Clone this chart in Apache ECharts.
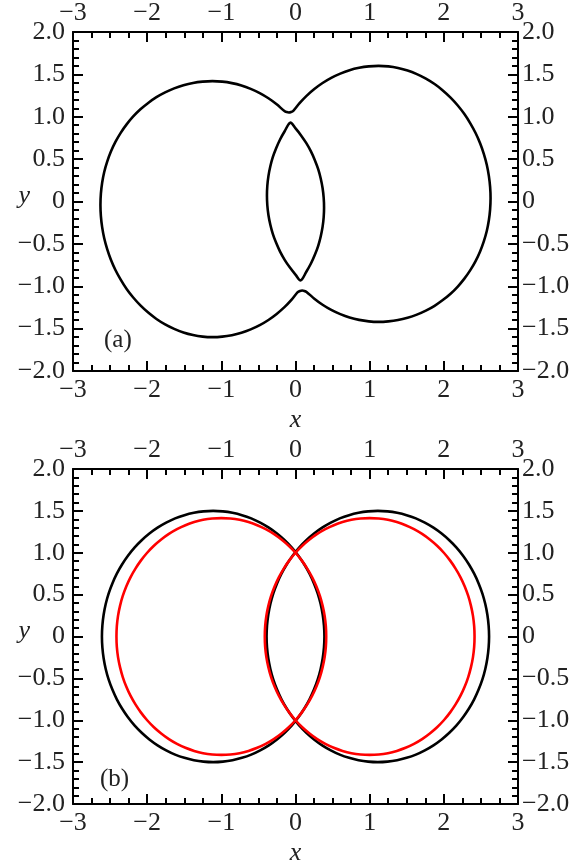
<!DOCTYPE html>
<html>
<head>
<meta charset="utf-8">
<script src="https://cdn.jsdelivr.net/npm/echarts@6/dist/echarts.min.js"></script>
<style>
  html, body { margin: 0; padding: 0; background: #fff; }
  #chart { width: 586px; height: 867px; }
</style>
</head>
<body>
<div id="chart"></div>
<script>
// tick values of both panels
const xTicks = [-3, -2, -1, 0, 1, 2, 3];
const yTicks = [-2, -1.5, -1, -0.5, 0, 0.5, 1, 1.5, 2];

// panel (a): outer peanut-shaped orbit (clockwise from the left edge)
const aOuter = [
  [-2.63, -0.04], [-2.624, 0.092], [-2.607, 0.221], [-2.579, 0.348], [-2.539, 0.470],
  [-2.489, 0.589], [-2.428, 0.703], [-2.357, 0.810], [-2.277, 0.910], [-2.188, 1.003],
  [-2.091, 1.088], [-1.986, 1.163], [-1.875, 1.231], [-1.758, 1.288], [-1.636, 1.335],
  [-1.511, 1.372], [-1.382, 1.399], [-1.252, 1.414], [-1.12, 1.42], [-0.988, 1.414],
  [-0.858, 1.397], [-0.729, 1.369], [-0.604, 1.329], [-0.482, 1.279], [-0.365, 1.218],
  [-0.254, 1.147], [-0.149, 1.067],
  [-0.12, 1.055], [-0.09, 1.05], [-0.06, 1.055], [-0.03, 1.07],
  [0.052, 1.158], [0.149, 1.247], [0.254, 1.327], [0.365, 1.398], [0.482, 1.459],
  [0.604, 1.509], [0.729, 1.549], [0.858, 1.577], [0.988, 1.594], [1.12, 1.60],
  [1.252, 1.594], [1.382, 1.576], [1.511, 1.546], [1.636, 1.503], [1.758, 1.450],
  [1.875, 1.386], [1.986, 1.311], [2.091, 1.226], [2.188, 1.133], [2.277, 1.032],
  [2.357, 0.922], [2.428, 0.808], [2.489, 0.687], [2.539, 0.562], [2.579, 0.434],
  [2.607, 0.303], [2.624, 0.172], [2.63, 0.04], [2.624, -0.092], [2.607, -0.221],
  [2.579, -0.348], [2.539, -0.470], [2.489, -0.589], [2.428, -0.703], [2.357, -0.810],
  [2.277, -0.910], [2.188, -1.003], [2.091, -1.088], [1.986, -1.163], [1.875, -1.231],
  [1.758, -1.288], [1.636, -1.335], [1.511, -1.372], [1.382, -1.399], [1.252, -1.414],
  [1.12, -1.42], [0.988, -1.414], [0.858, -1.397], [0.729, -1.369], [0.604, -1.329],
  [0.482, -1.279], [0.365, -1.218], [0.254, -1.147], [0.149, -1.067],
  [0.12, -1.055], [0.09, -1.05], [0.06, -1.055], [0.03, -1.07],
  [-0.052, -1.158], [-0.149, -1.247], [-0.254, -1.327], [-0.365, -1.398], [-0.482, -1.459],
  [-0.604, -1.509], [-0.729, -1.549], [-0.858, -1.577], [-0.988, -1.594], [-1.12, -1.60],
  [-1.252, -1.594], [-1.382, -1.576], [-1.511, -1.546], [-1.636, -1.503], [-1.758, -1.450],
  [-1.875, -1.386], [-1.986, -1.311], [-2.091, -1.226], [-2.188, -1.133], [-2.277, -1.032],
  [-2.357, -0.922], [-2.428, -0.808], [-2.489, -0.687], [-2.539, -0.562], [-2.579, -0.434],
  [-2.607, -0.303], [-2.624, -0.172]
];

// panel (a): inner lens
const aLens = [
  [-0.07, 0.93], [-0.002, 0.865], [0.075, 0.780], [0.146, 0.688], [0.208, 0.591],
  [0.261, 0.488], [0.306, 0.382], [0.340, 0.272], [0.365, 0.159], [0.380, 0.044],
  [0.385, -0.071], [0.380, -0.186], [0.365, -0.300], [0.340, -0.413], [0.306, -0.523],
  [0.261, -0.629], [0.208, -0.732], [0.146, -0.829],
  [0.07, -0.93], [0.002, -0.865], [-0.075, -0.780], [-0.146, -0.688], [-0.208, -0.591],
  [-0.261, -0.488], [-0.306, -0.382], [-0.340, -0.272], [-0.365, -0.159], [-0.380, -0.044],
  [-0.385, 0.071], [-0.380, 0.186], [-0.365, 0.300], [-0.340, 0.413], [-0.306, 0.523],
  [-0.261, 0.629], [-0.208, 0.732], [-0.146, 0.829]
];

// panel (b): black orbits
const bBlackLeft = [
  [0.39, 0], [0.384, 0.131], [0.367, 0.26], [0.339, 0.388], [0.30, 0.513],
  [0.249, 0.634], [0.189, 0.75], [0.119, 0.86], [0.039, 0.964], [-0.049, 1.061],
  [-0.146, 1.149], [-0.25, 1.229], [-0.36, 1.299], [-0.476, 1.359], [-0.597, 1.41],
  [-0.722, 1.449], [-0.85, 1.477], [-0.979, 1.494], [-1.11, 1.5], [-1.241, 1.494],
  [-1.37, 1.477], [-1.498, 1.449], [-1.623, 1.41], [-1.744, 1.359], [-1.86, 1.299],
  [-1.97, 1.229], [-2.074, 1.149], [-2.171, 1.061], [-2.259, 0.964], [-2.339, 0.86],
  [-2.409, 0.75], [-2.469, 0.634], [-2.52, 0.513], [-2.559, 0.388], [-2.587, 0.26],
  [-2.604, 0.131], [-2.61, 0], [-2.604, -0.131], [-2.587, -0.26], [-2.559, -0.388],
  [-2.52, -0.513], [-2.469, -0.634], [-2.409, -0.75], [-2.339, -0.86], [-2.259, -0.964],
  [-2.171, -1.061], [-2.074, -1.149], [-1.97, -1.229], [-1.86, -1.299], [-1.744, -1.359],
  [-1.623, -1.41], [-1.498, -1.449], [-1.37, -1.477], [-1.241, -1.494], [-1.11, -1.5],
  [-0.979, -1.494], [-0.85, -1.477], [-0.722, -1.449], [-0.597, -1.41], [-0.476, -1.359],
  [-0.36, -1.299], [-0.25, -1.229], [-0.146, -1.149], [-0.049, -1.061], [0.039, -0.964],
  [0.119, -0.86], [0.189, -0.75], [0.249, -0.634], [0.30, -0.513], [0.339, -0.388],
  [0.367, -0.26], [0.384, -0.131]
];
const bBlackRight = [
  [-0.39, 0], [-0.384, 0.131], [-0.367, 0.26], [-0.339, 0.388], [-0.30, 0.513],
  [-0.249, 0.634], [-0.189, 0.75], [-0.119, 0.86], [-0.039, 0.964], [0.049, 1.061],
  [0.146, 1.149], [0.25, 1.229], [0.36, 1.299], [0.476, 1.359], [0.597, 1.41],
  [0.722, 1.449], [0.85, 1.477], [0.979, 1.494], [1.11, 1.5], [1.241, 1.494],
  [1.37, 1.477], [1.498, 1.449], [1.623, 1.41], [1.744, 1.359], [1.86, 1.299],
  [1.97, 1.229], [2.074, 1.149], [2.171, 1.061], [2.259, 0.964], [2.339, 0.86],
  [2.409, 0.75], [2.469, 0.634], [2.52, 0.513], [2.559, 0.388], [2.587, 0.26],
  [2.604, 0.131], [2.61, 0], [2.604, -0.131], [2.587, -0.26], [2.559, -0.388],
  [2.52, -0.513], [2.469, -0.634], [2.409, -0.75], [2.339, -0.86], [2.259, -0.964],
  [2.171, -1.061], [2.074, -1.149], [1.97, -1.229], [1.86, -1.299], [1.744, -1.359],
  [1.623, -1.41], [1.498, -1.449], [1.37, -1.477], [1.241, -1.494], [1.11, -1.5],
  [0.979, -1.494], [0.85, -1.477], [0.722, -1.449], [0.597, -1.41], [0.476, -1.359],
  [0.36, -1.299], [0.25, -1.229], [0.146, -1.149], [0.049, -1.061], [-0.039, -0.964],
  [-0.119, -0.86], [-0.189, -0.75], [-0.249, -0.634], [-0.30, -0.513], [-0.339, -0.388],
  [-0.367, -0.26], [-0.384, -0.131]
];

// panel (b): red orbits
const bRedRight = [
  [2.414, 0], [2.409, 0.123], [2.393, 0.246], [2.366, 0.366], [2.329, 0.484],
  [2.282, 0.598], [2.225, 0.707], [2.158, 0.811], [2.083, 0.909], [2.0, 1.0],
  [1.909, 1.083], [1.811, 1.158], [1.707, 1.225], [1.598, 1.282], [1.484, 1.329],
  [1.366, 1.366], [1.246, 1.393], [1.123, 1.409], [1.0, 1.414], [0.877, 1.409],
  [0.754, 1.393], [0.634, 1.366], [0.516, 1.329], [0.402, 1.282], [0.293, 1.225],
  [0.189, 1.158], [0.091, 1.083], [0.0, 1.0], [-0.083, 0.909], [-0.158, 0.811],
  [-0.225, 0.707], [-0.282, 0.598], [-0.329, 0.484], [-0.366, 0.366], [-0.393, 0.246],
  [-0.409, 0.123], [-0.414, 0], [-0.409, -0.123], [-0.393, -0.246], [-0.366, -0.366],
  [-0.329, -0.484], [-0.282, -0.598], [-0.225, -0.707], [-0.158, -0.811], [-0.083, -0.909],
  [0.0, -1.0], [0.091, -1.083], [0.189, -1.158], [0.293, -1.225], [0.402, -1.282],
  [0.516, -1.329], [0.634, -1.366], [0.754, -1.393], [0.877, -1.409], [1.0, -1.414],
  [1.123, -1.409], [1.246, -1.393], [1.366, -1.366], [1.484, -1.329], [1.598, -1.282],
  [1.707, -1.225], [1.811, -1.158], [1.909, -1.083], [2.0, -1.0], [2.083, -0.909],
  [2.158, -0.811], [2.225, -0.707], [2.282, -0.598], [2.329, -0.484], [2.366, -0.366],
  [2.393, -0.246], [2.409, -0.123]
];
const bRedLeft = [
  [-2.414, 0], [-2.409, 0.123], [-2.393, 0.246], [-2.366, 0.366], [-2.329, 0.484],
  [-2.282, 0.598], [-2.225, 0.707], [-2.158, 0.811], [-2.083, 0.909], [-2.0, 1.0],
  [-1.909, 1.083], [-1.811, 1.158], [-1.707, 1.225], [-1.598, 1.282], [-1.484, 1.329],
  [-1.366, 1.366], [-1.246, 1.393], [-1.123, 1.409], [-1.0, 1.414], [-0.877, 1.409],
  [-0.754, 1.393], [-0.634, 1.366], [-0.516, 1.329], [-0.402, 1.282], [-0.293, 1.225],
  [-0.189, 1.158], [-0.091, 1.083], [0.0, 1.0], [0.083, 0.909], [0.158, 0.811],
  [0.225, 0.707], [0.282, 0.598], [0.329, 0.484], [0.366, 0.366], [0.393, 0.246],
  [0.409, 0.123], [0.414, 0], [0.409, -0.123], [0.393, -0.246], [0.366, -0.366],
  [0.329, -0.484], [0.282, -0.598], [0.225, -0.707], [0.158, -0.811], [0.083, -0.909],
  [0.0, -1.0], [-0.091, -1.083], [-0.189, -1.158], [-0.293, -1.225], [-0.402, -1.282],
  [-0.516, -1.329], [-0.634, -1.366], [-0.754, -1.393], [-0.877, -1.409], [-1.0, -1.414],
  [-1.123, -1.409], [-1.246, -1.393], [-1.366, -1.366], [-1.484, -1.329], [-1.598, -1.282],
  [-1.707, -1.225], [-1.811, -1.158], [-1.909, -1.083], [-2.0, -1.0], [-2.083, -0.909],
  [-2.158, -0.811], [-2.225, -0.707], [-2.282, -0.598], [-2.329, -0.484], [-2.366, -0.366],
  [-2.393, -0.246], [-2.409, -0.123]
];

const FONT = 'Liberation Serif';
const fmtX = v => String(v).replace('-', '\u2212');
const fmtY = v => (v === 0 ? '0' : v.toFixed(1)).replace('-', '\u2212');

function xAxis(gridIndex, position, withName) {
  return {
    type: 'value', gridIndex, position,
    min: xTicks[0], max: xTicks[xTicks.length - 1], interval: 1,
    name: withName ? 'x' : '', nameLocation: 'middle', nameGap: 36,
    nameMoveOverlap: false,
    nameTextStyle: { fontFamily: FONT, fontStyle: 'italic', fontSize: 26, color: '#222' },
    axisLine: { show: true, onZero: false, lineStyle: { color: '#000', width: 2 } },
    axisTick: { show: true, inside: true, length: 10, lineStyle: { color: '#000', width: 2 } },
    minorTick: { show: true, splitNumber: 4, length: 6, lineStyle: { color: '#000', width: 2 } },
    axisLabel: { fontFamily: FONT, fontSize: 26, color: '#222', margin: 6, formatter: fmtX },
    splitLine: { show: false }
  };
}

function yAxis(gridIndex, position, withName) {
  return {
    type: 'value', gridIndex, position,
    min: yTicks[0], max: yTicks[yTicks.length - 1], interval: 0.5,
    name: withName ? 'y' : '', nameLocation: 'middle', nameGap: 43, nameRotate: 0,
    nameMoveOverlap: false,
    nameTextStyle: {
      fontFamily: FONT, fontStyle: 'italic', fontSize: 26, color: '#222',
      verticalAlign: 'bottom', lineHeight: 10
    },
    axisLine: { show: true, onZero: false, lineStyle: { color: '#000', width: 2 } },
    axisTick: { show: true, inside: true, length: 10, lineStyle: { color: '#000', width: 2 } },
    minorTick: { show: true, splitNumber: 5, length: 6, lineStyle: { color: '#000', width: 2 } },
    axisLabel: {
      fontFamily: FONT, fontSize: 26, color: '#222',
      margin: position === 'left' ? 8 : 4, formatter: fmtY
    },
    splitLine: { show: false }
  };
}

// closed orbit: the whole point list is mapped through the axes and drawn as one loop
function orbit(points, color, xi, yi) {
  return {
    type: 'custom', coordinateSystem: 'cartesian2d',
    xAxisIndex: xi, yAxisIndex: yi,
    data: [points[0]], silent: true, clip: true,
    renderItem: (params, api) => ({
      type: 'polygon',
      shape: { points: points.map(p => api.coord(p)), smooth: 0.33 },
      style: { fill: 'none', stroke: color, lineWidth: 2.6, lineJoin: 'round' }
    })
  };
}

const chart = echarts.init(document.getElementById('chart'));
chart.setOption({
  animation: false,
  backgroundColor: '#fff',
  grid: [
    { left: 73, top: 30, width: 445, height: 341 },
    { left: 73, top: 469, width: 445, height: 341 }
  ],
  xAxis: [
    xAxis(0, 'bottom', true), xAxis(0, 'top', false),
    xAxis(1, 'bottom', true), xAxis(1, 'top', false)
  ],
  yAxis: [
    yAxis(0, 'left', true), yAxis(0, 'right', false),
    yAxis(1, 'left', true), yAxis(1, 'right', false)
  ],
  series: [
    orbit(aOuter, '#000', 0, 0),
    orbit(aLens, '#000', 0, 0),
    orbit(bBlackLeft, '#000', 2, 2),
    orbit(bBlackRight, '#000', 2, 2),
    orbit(bRedLeft, '#ff0000', 2, 2),
    orbit(bRedRight, '#ff0000', 2, 2)
  ],
  graphic: [
    { type: 'text', left: 104, top: 328, style: { text: '(a)', font: '25px "Liberation Serif"', fill: '#222' } },
    { type: 'text', left: 100, top: 767, style: { text: '(b)', font: '25px "Liberation Serif"', fill: '#222' } }
  ]
});
</script>
</body>
</html>
